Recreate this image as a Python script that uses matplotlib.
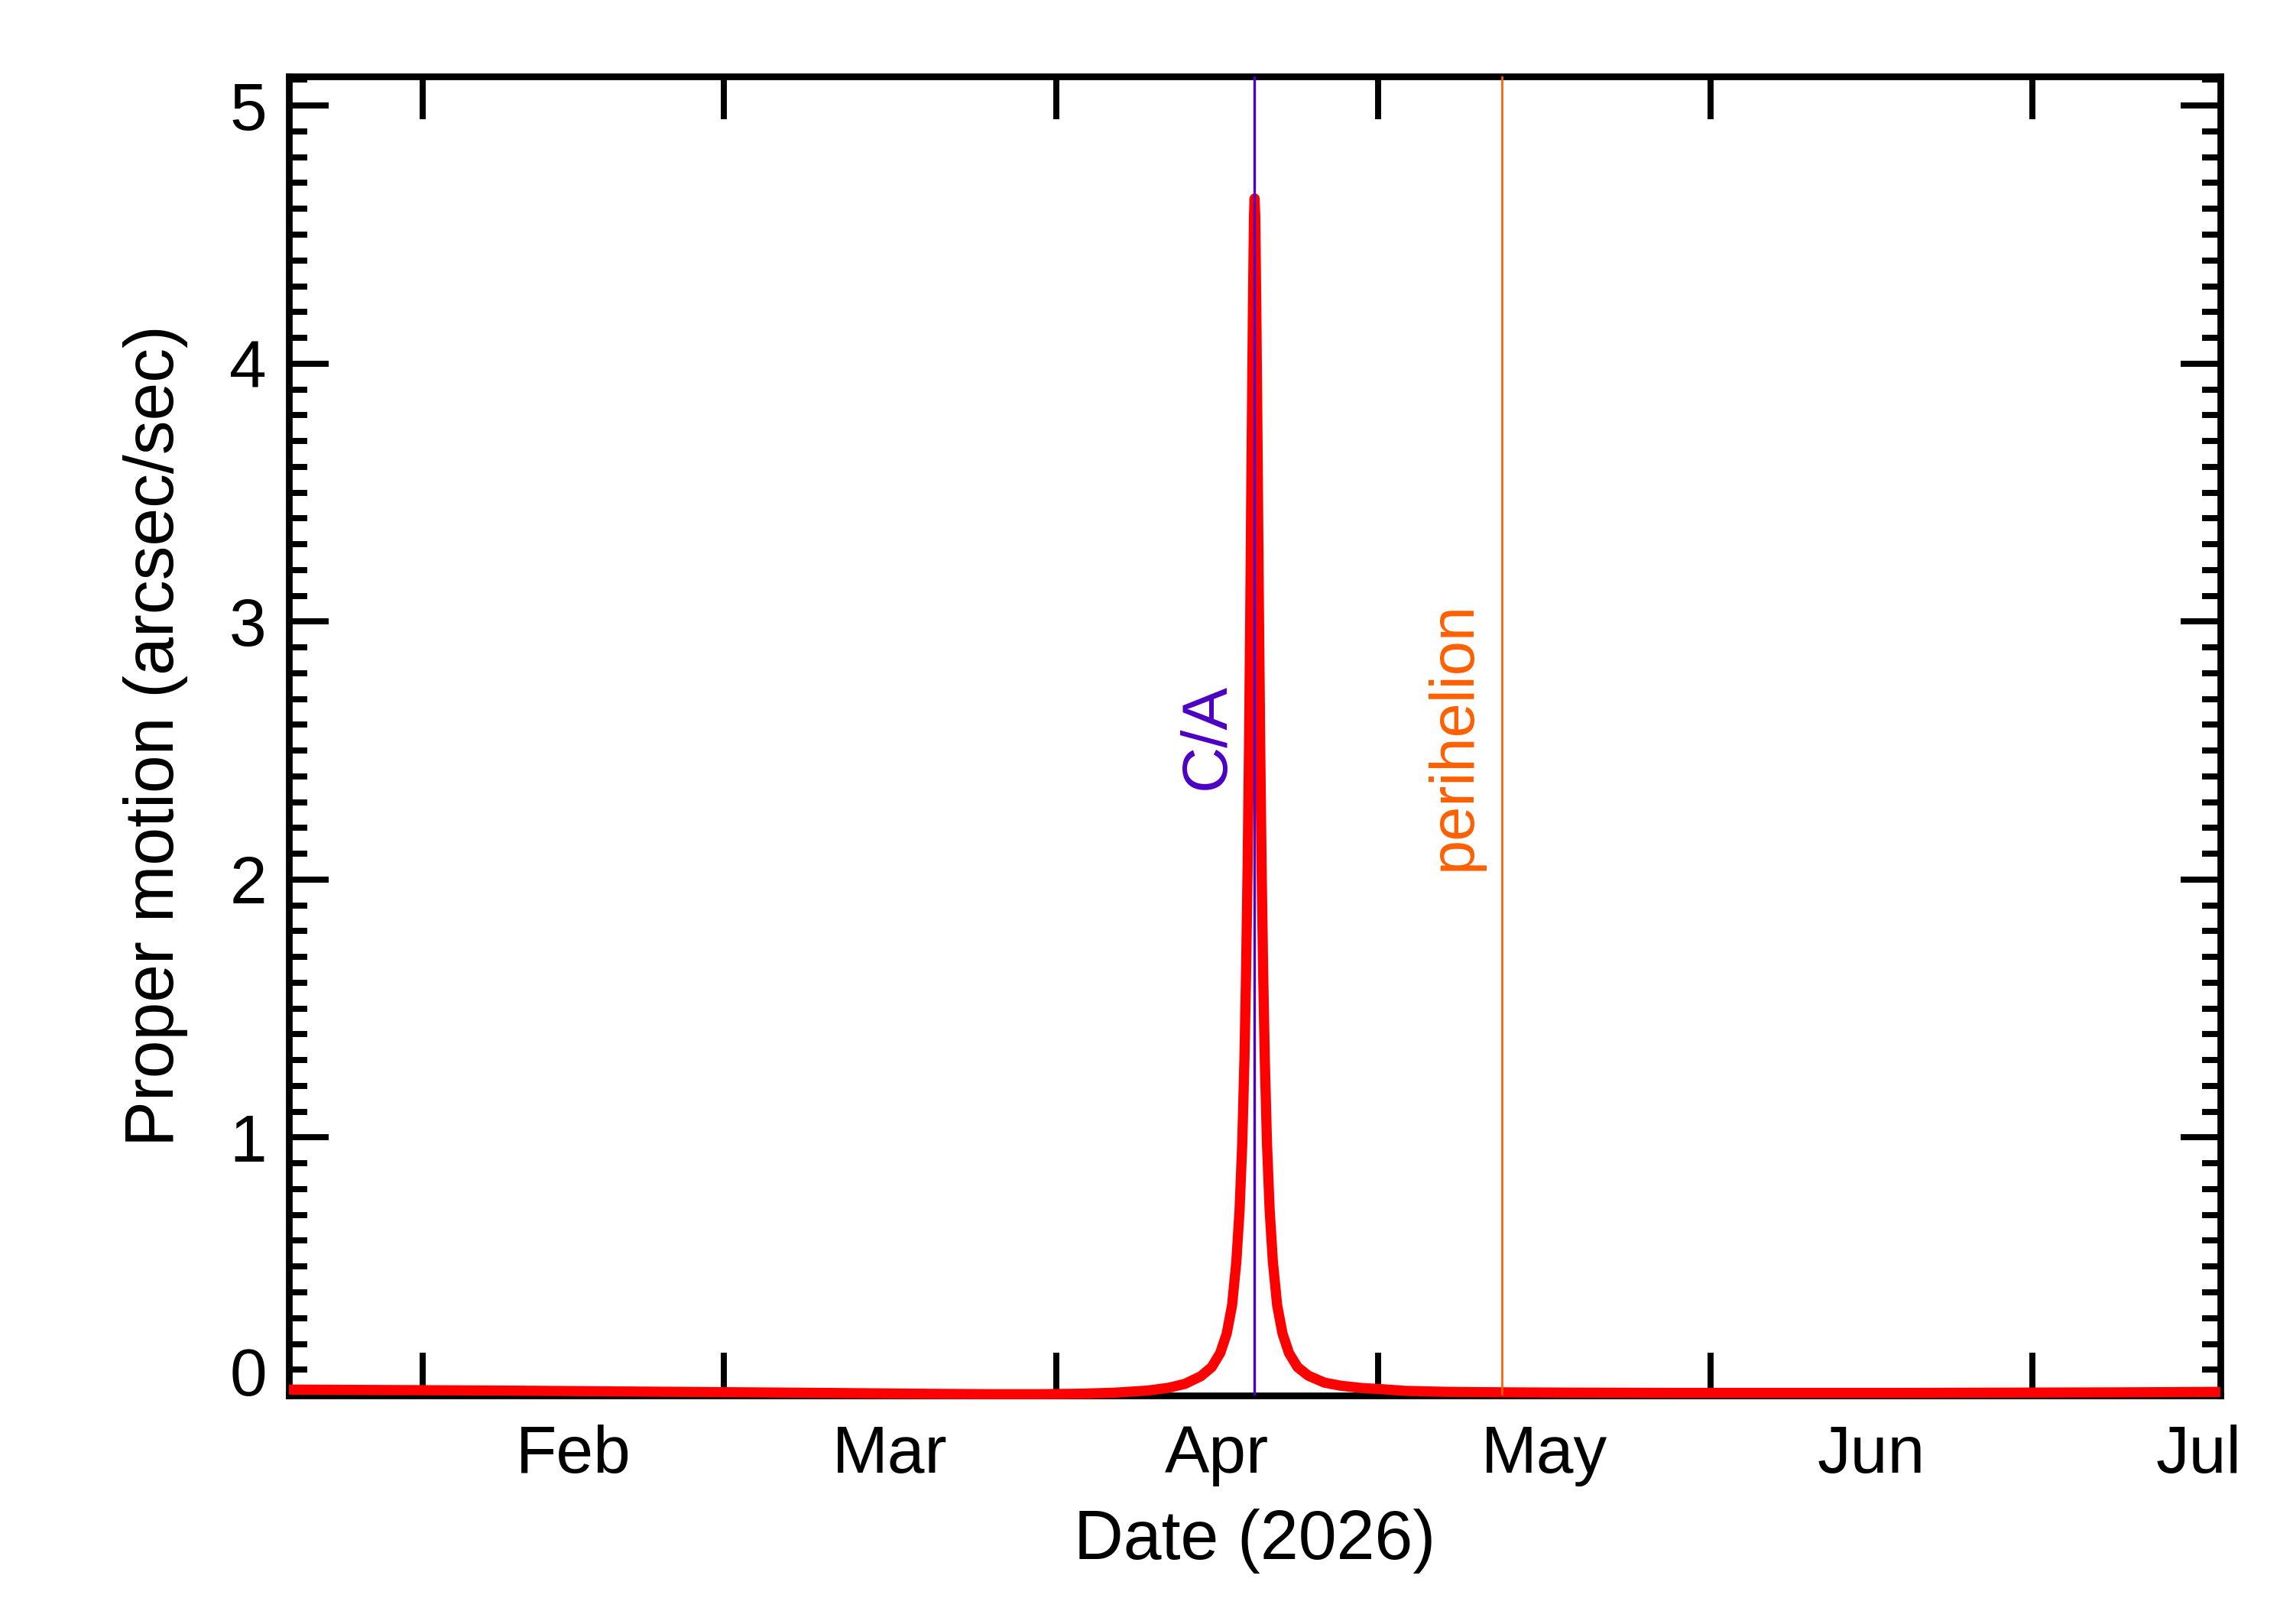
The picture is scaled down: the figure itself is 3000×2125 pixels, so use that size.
import matplotlib
matplotlib.use('Agg')
import matplotlib.pyplot as plt
import matplotlib.dates as mdates
import matplotlib.ticker as mticker
import pandas as pd

plt.rcParams['font.family'] = ['Liberation Sans', 'DejaVu Sans']

# ---------------- data ----------------
ca_date = '2026-04-19 12:00'          # close approach
perihelion_date = '2026-05-12 13:00'  # perihelion
x_start = '2026-01-19 12:00'
x_end = '2026-07-18 12:00'

# days relative to close approach, proper motion in arcsec/sec
day_offset = [-90, -80, -70, -60, -50, -40, -32, -25, -20, -16, -13, -10, -8, -6.5,
              -5, -4, -3.2, -2.6, -2.1, -1.7, -1.4, -1.15, -0.95, -0.8, -0.65, -0.52,
              -0.4, -0.28, -0.16, -0.06, 0, 0.06, 0.16, 0.28, 0.4, 0.52, 0.65, 0.8,
              0.95, 1.15, 1.4, 1.7, 2.1, 2.6, 3.2, 4, 5, 6.5, 8, 10, 12, 14, 18, 24,
              30, 40, 50, 60, 70, 80, 90]
proper_motion = [0.023, 0.021, 0.019, 0.016, 0.013, 0.010, 0.007, 0.005, 0.005, 0.007,
                 0.011, 0.019, 0.030, 0.045, 0.075, 0.11, 0.165, 0.24, 0.35, 0.52, 0.72,
                 0.98, 1.30, 1.63, 2.05, 2.52, 3.05, 3.65, 4.2, 4.57, 4.64, 4.57, 4.2,
                 3.65, 3.05, 2.52, 2.05, 1.63, 1.30, 0.98, 0.72, 0.52, 0.35, 0.24, 0.165,
                 0.11, 0.077, 0.05, 0.038, 0.029, 0.024, 0.018, 0.014, 0.012, 0.011,
                 0.010, 0.010, 0.010, 0.011, 0.012, 0.014]

month_ticks = ['2026-02-01', '2026-03-01', '2026-04-01', '2026-05-01', '2026-06-01', '2026-07-01']
month_label_pos = ['2026-02-15 00:00', '2026-03-16 12:00', '2026-04-16 00:00',
                   '2026-05-16 12:00', '2026-06-16 00:00', '2026-07-16 12:00']
month_labels = ['Feb', 'Mar', 'Apr', 'May', 'Jun', 'Jul']
y_ticks = [0, 1, 2, 3, 4, 5]
y_tick_labels = ['0', '1', '2', '3', '4', '5']

# ---------------- styles ----------------
red = '#ff0000'
blue = '#4b00c3'
orange = '#ff5f00'

ca = pd.Timestamp(ca_date)
dates = (ca + pd.to_timedelta(day_offset, unit='D')).to_pydatetime()
ca_num = mdates.date2num(ca.to_pydatetime())
peri_num = mdates.date2num(pd.Timestamp(perihelion_date).to_pydatetime())

fig = plt.figure(figsize=(10, 2125 / 300), dpi=300)
ax = fig.add_axes([0.126, 0.1407, 0.8423, 0.8122])

ax.plot(dates, proper_motion, color=red, lw=3.2, zorder=3, clip_on=False,
        solid_joinstyle='round', solid_capstyle='butt')
ax.axvline(ca_num, color=blue, lw=0.8, zorder=4)
ax.axvline(peri_num, color=orange, lw=0.65, zorder=4)

ax.set_xlim(mdates.date2num(pd.Timestamp(x_start).to_pydatetime()),
            mdates.date2num(pd.Timestamp(x_end).to_pydatetime()))
ax.set_ylim(0, 5.113)

# x ticks: month boundaries (no labels), labels mid-month
ax.set_xticks(mdates.date2num(pd.to_datetime(month_ticks).to_pydatetime()))
ax.set_xticklabels([])
ax.set_xticks(mdates.date2num(pd.to_datetime(month_label_pos).to_pydatetime()), minor=True)
ax.set_xticklabels(month_labels, minor=True)
ax.tick_params(axis='x', which='major', direction='in', length=13.5, width=1.9,
               top=True, bottom=True, labelbottom=False)
ax.tick_params(axis='x', which='minor', length=0, labelsize=21, pad=9, top=False)

# y ticks
ax.set_yticks(y_ticks)
ax.set_yticklabels(y_tick_labels)
ax.yaxis.set_minor_locator(mticker.MultipleLocator(0.1))
ax.tick_params(axis='y', which='major', direction='in', length=12.5, width=1.9,
               left=True, right=True, labelsize=21, pad=7)
ax.tick_params(axis='y', which='minor', direction='in', length=5.8, width=1.9,
               left=True, right=True)
ax.yaxis.get_major_ticks()[0].label1.set_verticalalignment('baseline')

for s in ax.spines.values():
    s.set_linewidth(2.1)

ax.set_xlabel('Date (2026)', fontsize=21.5, labelpad=7)
ax.set_ylabel('Proper motion (arcsec/sec)', fontsize=21.5, labelpad=13)

ax.annotate('C/A', xy=(ca_num, 0.5), xycoords=('data', 'axes fraction'),
            xytext=(-9.6, 0), textcoords='offset points', rotation=90,
            rotation_mode='anchor', ha='center', va='baseline', color=blue, fontsize=20)
ax.annotate('perihelion', xy=(peri_num, 0.5), xycoords=('data', 'axes fraction'),
            xytext=(-10, 0), textcoords='offset points', rotation=90,
            rotation_mode='anchor', ha='center', va='baseline', color=orange, fontsize=19.5)

fig.savefig('out.png', dpi=300)
